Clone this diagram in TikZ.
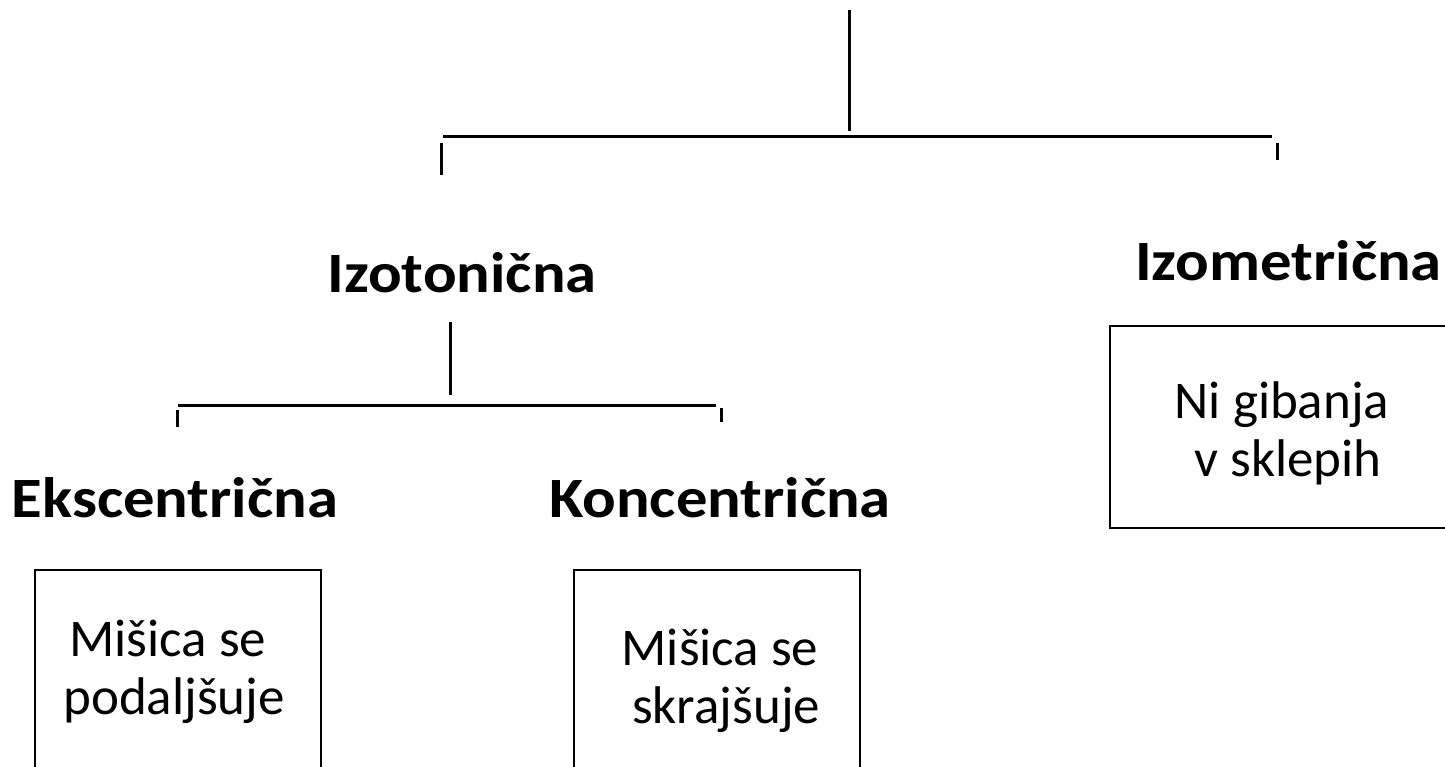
\documentclass[tikz,border=0pt]{standalone}
\usepackage{fontspec}
\setmainfont{Carlito}
\newfontfamily\headfont{Carlito}[FakeStretch=1.1]
\begin{document}
\begin{tikzpicture}[x=1pt,y=-1pt,
  ln/.style={line width=3pt},
  head/.style={inner sep=0pt,anchor=base,font=\headfont\bfseries\fontsize{57}{60}\selectfont},
  body/.style={inner sep=0pt,anchor=base,align=center,font=\fontsize{53}{58}\selectfont},
  boxln/.style={line width=2.8pt}]
\useasboundingbox (0,0) rectangle (1445,767);
\clip (0,0) rectangle (1445,767);
% top bracket
\coordinate (t0) at (849,10);
\coordinate (t1) at (849,131);
\coordinate (hl) at (443,137);
\coordinate (hr) at (1272,137);
\coordinate (lt0) at (441,143);
\coordinate (lt1) at (441,175);
\coordinate (rt0) at (1277,143);
\coordinate (rt1) at (1277,160);
\draw[ln] (t0) -- (t1);
\draw[ln] (hl) -- (hr);
\draw[ln] (lt0) -- (lt1);
\draw[ln] (rt0) -- (rt1);
% headings
\node[head] (izot) at (462,293) {Izotonična};
\node[head,anchor=base west] (izom) at (1135,280) {Izometrična};
\node[head] (eks) at (175,517) {Ekscentrična};
\node[head] (kon) at (720,517) {Koncentrična};
% second bracket
\coordinate (s0) at (450,322);
\coordinate (s1) at (450,395);
\coordinate (sl) at (178,405);
\coordinate (sr) at (716,405);
\coordinate (slt0) at (177,410);
\coordinate (slt1) at (177,427);
\coordinate (srt0) at (721,408);
\coordinate (srt1) at (721,422);
\draw[ln] (s0) -- (s1);
\draw[ln] (sl) -- (sr);
\draw[ln] (slt0) -- (slt1);
\draw[ln] (srt0) -- (srt1);
% boxes
\draw[boxln] (35,570) rectangle (321,800);
\draw[boxln] (574,570) rectangle (860,800);
\draw[boxln] (1110,326) rectangle (1460,528);
\node[body] (b1) at (174,714) {Mišica se\hspace*{0.23em}\\podaljšuje};
\node[body] (b2) at (720,723) {Mišica se\\\hspace*{0.23em}skrajšuje};
\node[body] (b3) at (1282,476) {Ni gibanja\\\hspace*{0.23em}v sklepih};
\end{tikzpicture}
\end{document}
